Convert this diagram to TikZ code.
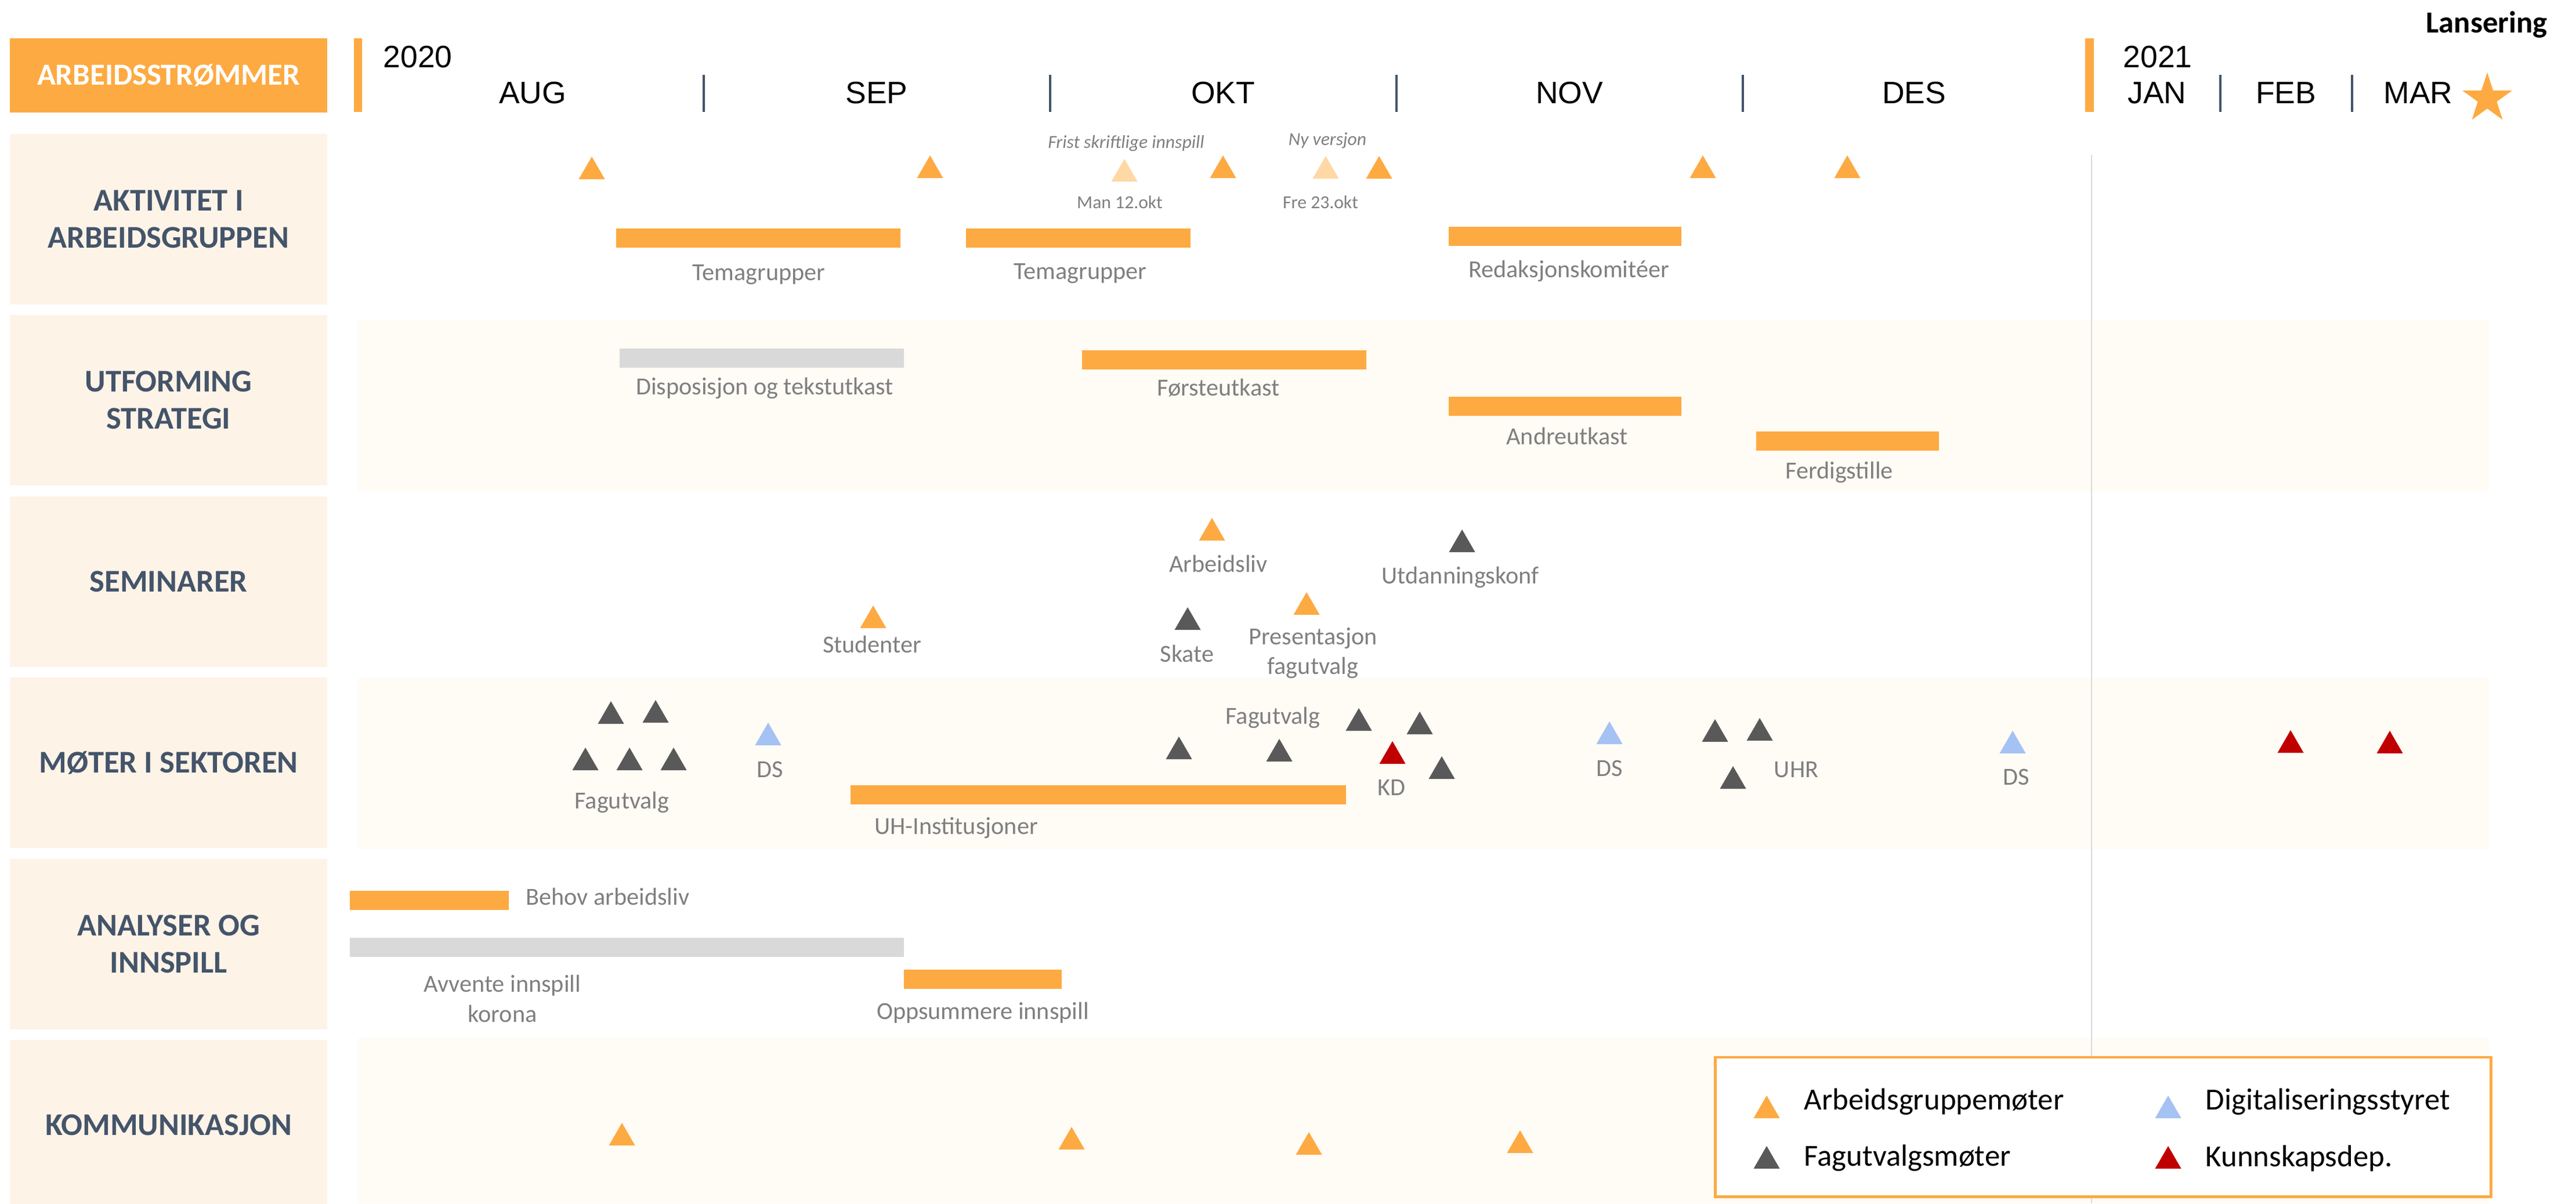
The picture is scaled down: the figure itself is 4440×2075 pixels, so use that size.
\documentclass[tikz,border=0pt]{standalone}
\usepackage{fontspec}
\setmainfont{Carlito}
\newfontfamily\arialfont{Liberation Sans}
\usetikzlibrary{shapes.geometric}

\definecolor{agorange}{RGB}{253,170,66}
\definecolor{agpale}{RGB}{255,216,166}
\definecolor{fvgray}{RGB}{89,89,89}
\definecolor{dsblue}{RGB}{164,194,244}
\definecolor{kdred}{RGB}{192,0,0}
\definecolor{bargray}{RGB}{217,217,217}
\definecolor{rowfill}{RGB}{253,243,231}
\definecolor{bandfill}{RGB}{255,251,245}
\definecolor{slate}{RGB}{68,84,106}
\definecolor{lblgray}{RGB}{127,127,127}
\definecolor{gridgray}{RGB}{217,217,217}

\tikzset{
  tri/.style={regular polygon, regular polygon sides=3, inner sep=0pt, minimum size=0.52cm, fill=#1},
  lbl/.style={inner sep=0pt, text=lblgray, font=\fontsize{12}{14.6}\selectfont, align=center},
  italbl/.style={inner sep=0pt, text=lblgray, font=\fontsize{9}{11}\selectfont\itshape},
  datelbl/.style={inner sep=0pt, text=lblgray, font=\fontsize{9}{11}\selectfont},
  rowbox/.style={fill=rowfill, minimum width=5.47cm, minimum height=2.94cm, inner sep=0pt,
    text=slate, font=\fontsize{15.5}{18.2}\selectfont\bfseries, align=center},
  month/.style={inner sep=0pt, font=\arialfont\fontsize{15.2}{18}\selectfont},
  sep/.style={slate, line width=1pt},
  legtxt/.style={inner sep=0pt, anchor=west, font=\fontsize{15}{18}\selectfont},
}

\begin{document}
\begin{tikzpicture}[x=0.01cm, y=-0.01cm]
  \useasboundingbox (0,0) rectangle (4440,2075);

  % bakgrunn
  \foreach \yt/\yb in {552/847, 1169/1464, 1790/2075}
    \fill[bandfill] (617,\yt) rectangle (4290,\yb);
  \draw[gridgray, line width=0.6pt] (3605,267) -- (3605,2075);

  % arbeidsstrømmer
  \node[rowbox, fill=agorange, minimum height=1.28cm, text=white,
    font=\fontsize{15}{18}\selectfont\bfseries] (hdr) at (290.5,130) {ARBEIDSSTRØMMER};
  \foreach \yc/\txt [count=\i] in {378/{AKTIVITET I\\ARBEIDSGRUPPEN}, 690/{UTFORMING\\STRATEGI},
      1003/{SEMINARER}, 1315/{MØTER I SEKTOREN}, 1628/{ANALYSER OG\\INNSPILL}, 1940/{KOMMUNIKASJON}}
    \node[rowbox] (row\i) at (290.5,\yc) {\txt};

  % tidslinje
  \fill[agorange] (610,66) rectangle (624,193);
  \fill[agorange] (3594,66) rectangle (3609,193);
  \node[month, anchor=west] (y2020) at (660,98) {2020};
  \node[month, anchor=west] (y2021) at (3659,98) {2021};
  \foreach \x in {1213,1810,2407,3004,3827,4054}
    \draw[sep] (\x,129) -- (\x,193);
  \foreach \x/\m in {918/AUG,1511/SEP,2108/OKT,2705/NOV,3299/DES,3718/JAN,3940/FEB,4168/MAR}
    \node[month] (m-\m) at (\x,160) {\m};
  \node[star, star points=5, star point ratio=2.618, minimum size=0.9cm, inner sep=0pt,
    fill=agorange] (launch) at (4287,170) {};
  \node[inner sep=0pt, anchor=base, font=\fontsize{15}{18}\selectfont\bfseries] (lans) at (4286,56) {Lansering};

  % aktivitet i arbeidsgruppen
  \foreach \x/\y [count=\i] in {1020/296,1603/294,2108/294,2377/295,2935/294,3184/294}
    \node[tri=agorange] (ag\i) at (\x,\y) {};
  \node[tri=agpale] (frist) at (1938,300) {};
  \node[tri=agpale] (nyver) at (2285,295) {};
  \node[italbl] (frist-t) at (1941,247) {Frist skriftlige innspill};
  \node[italbl] (nyver-t) at (2288,242) {Ny versjon};
  \node[datelbl] (frist-d) at (1930,349) {Man 12.okt};
  \node[datelbl] (nyver-d) at (2276,349) {Fre 23.okt};
  \fill[agorange] (1062,394) rectangle (1552,427);
  \fill[agorange] (1665,394) rectangle (2052,427);
  \fill[agorange] (2497,391) rectangle (2898,424);
  \node[lbl] (tema1) at (1308,474) {Temagrupper};
  \node[lbl] (tema2) at (1862,472) {Temagrupper};
  \node[lbl] (redak) at (2704,467) {Redaksjonskomitéer};

  % utforming strategi
  \fill[bargray] (1068,601) rectangle (1558,634);
  \fill[agorange] (1865,604) rectangle (2355,637);
  \fill[agorange] (2497,684) rectangle (2898,717);
  \fill[agorange] (3027,744) rectangle (3342,777);
  \node[lbl] (dispo) at (1318,669) {Disposisjon og tekstutkast};
  \node[lbl] (forste) at (2100,669) {Førsteutkast};
  \node[lbl] (andre) at (2701,752) {Andreutkast};
  \node[lbl] (ferdig) at (3170,814) {Ferdigstille};

  % seminarer
  \node[tri=agorange] (sem-al) at (2089,919) {};
  \node[tri=fvgray] (sem-ud) at (2520,939) {};
  \node[tri=agorange] (sem-pf) at (2252,1047) {};
  \node[tri=fvgray] (sem-sk) at (2047,1073) {};
  \node[tri=agorange] (sem-st) at (1505,1070) {};
  \node[lbl] (sem-al-t) at (2100,972) {Arbeidsliv};
  \node[lbl] (sem-ud-t) at (2517,995) {Utdanningskonf};
  \node[lbl] (sem-pf-t) at (2263,1126) {Presentasjon\\fagutvalg};
  \node[lbl] (sem-sk-t) at (2046,1127) {Skate};
  \node[lbl] (sem-st-t) at (1503,1111) {Studenter};

  % møter i sektoren
  \foreach \x/\y [count=\i] in {1053/1235,1130/1233,1009/1315,1085/1315,1161/1315,
      2032/1296,2205/1300,2342/1247,2447/1253,2485/1330,2956/1266,3033/1264,2987/1347}
    \node[tri=fvgray] (fv\i) at (\x,\y) {};
  \node[tri=dsblue] (ds1) at (1324,1272) {};
  \node[tri=dsblue] (ds2) at (2774,1270) {};
  \node[tri=dsblue] (ds3) at (3469,1286) {};
  \node[tri=kdred] (kd1) at (2400,1304) {};
  \node[tri=kdred] (kd2) at (3948,1285) {};
  \node[tri=kdred] (kd3) at (4119,1286) {};
  \fill[agorange] (1466,1354) rectangle (2320,1387);
  \node[lbl] (fv-t1) at (1072,1383) {Fagutvalg};
  \node[lbl] (fv-t2) at (2194,1237) {Fagutvalg};
  \node[lbl] (ds1-t) at (1327,1327) {DS};
  \node[lbl] (ds2-t) at (2774,1325) {DS};
  \node[lbl] (ds3-t) at (3475,1340) {DS};
  \node[lbl] (kd1-t) at (2398,1358) {KD};
  \node[lbl] (uhr-t) at (3096,1327) {UHR};
  \node[lbl] (uh-t) at (1648,1427) {UH-Institusjoner};

  % analyser og innspill
  \fill[agorange] (603,1536) rectangle (877,1569);
  \fill[bargray] (603,1617) rectangle (1558,1650);
  \fill[agorange] (1558,1672) rectangle (1830,1705);
  \node[lbl, anchor=west] (behov) at (906,1546) {Behov arbeidsliv};
  \node[lbl] (avvente) at (866,1722) {Avvente innspill\\korona};
  \node[lbl] (oppsum) at (1694,1746) {Oppsummere innspill};

  % kommunikasjon
  \foreach \x/\y [count=\i] in {1072/1962,1847/1969,2256/1978,2620/1975}
    \node[tri=agorange] (kom\i) at (\x,\y) {};

  % forklaring
  \draw[agorange, line width=1.4pt, fill=white] (2956,1823) rectangle (4293,2063);
  \node[tri=agorange] (leg-ag) at (3045,1915) {};
  \node[tri=fvgray] (leg-fv) at (3045,2002) {};
  \node[tri=dsblue] (leg-ds) at (3737,1915) {};
  \node[tri=kdred] (leg-kd) at (3737,2002) {};
  \node[legtxt] (leg-ag-t) at (3109,1900) {Arbeidsgruppemøter};
  \node[legtxt] (leg-fv-t) at (3109,1997) {Fagutvalgsmøter};
  \node[legtxt] (leg-ds-t) at (3801,1900) {Digitaliseringsstyret};
  \node[legtxt] (leg-kd-t) at (3801,1997) {Kunnskapsdep.};
\end{tikzpicture}
\end{document}
